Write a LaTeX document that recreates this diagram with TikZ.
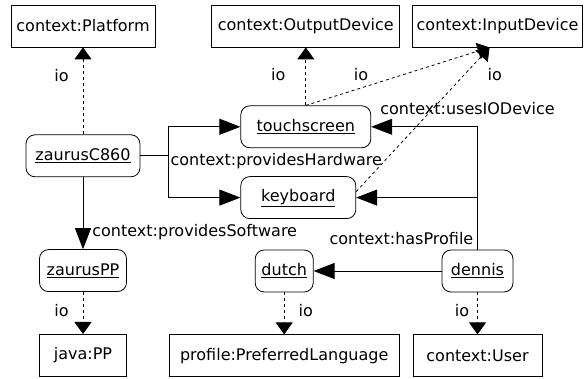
\documentclass[tikz,border=0pt]{standalone}
\usepackage{fontspec}
\setmainfont{DejaVu Sans}
\usepackage{tikz}
\usetikzlibrary{arrows.meta, positioning}
\newcommand{\fsz}{\fontsize{16}{19}\selectfont}
\tikzstyle{klass} = [rectangle, minimum height=42pt, inner xsep=3pt, text centered, draw=black, line width=0.8pt, font=\fsz]
\tikzstyle{instance} = [rectangle, rounded corners=9pt, minimum height=42pt, text centered, draw=black, line width=0.8pt, font=\fsz]
\tikzstyle{prop} = [line width=0.8pt, -{Triangle[length=21pt,width=16pt]}]
\tikzstyle{typeof} = [line width=0.8pt, dash pattern=on 3pt off 3pt, -{Triangle[length=12pt,width=17pt]}]
\tikzstyle{lbl} = [inner sep=0pt, font=\fsz]

\begin{document}
\begin{tikzpicture}[x=1pt, y=-1pt]
    \useasboundingbox (0,0) rectangle (584,379);
    % Classes on top
    \node[klass, minimum width=144pt] (platform) at (83,26) {context:Platform};
    \node[klass, minimum width=188pt, right=56pt of platform] (output) {context:OutputDevice};
    \node[klass, minimum width=170pt, right=12pt of output] (input) {context:InputDevice};

    % Device instances
    \node[instance, minimum width=114pt, below=87pt of platform] (zc860) {\underline{zaurusC860}};
    \node[instance, minimum width=130pt, below=58pt of output] (touch) {\underline{touchscreen}};
    \node[instance, minimum width=115pt, below=28pt of touch.south west, anchor=north west] (keyboard) {\underline{keyboard}};
    \node[instance, minimum width=87pt, below=72pt of zc860] (zpp) {\underline{zaurusPP}};

    % User and profile
    \node[instance, minimum width=71pt] (dennis) at (477.5,271) {\underline{dennis}};
    \node[instance, minimum width=58pt, left=128pt of dennis] (dutch) {\underline{dutch}};

    % Classes at bottom
    \node[klass, minimum width=87pt, below=42pt of zpp] (javapp) {java:PP};
    \node[klass, minimum width=230pt, below=42pt of dutch] (preflang) {profile:PreferredLanguage};
    \node[klass, minimum width=129pt, below=42pt of dennis] (user) {context:User};

    % io links
    \draw[typeof] (zc860) -- node[lbl, left=14pt, pos=0.68] {io} (platform);
    \draw[typeof] (touch) -- node[lbl, left=20pt, pos=0.53] {io} (output);
    \draw[typeof] (touch.north) -- node[lbl, above=7pt, pos=0.3] {io} ([xshift=-8pt]input.south);
    \draw[typeof] ([yshift=6pt]keyboard.east) -- node[lbl, right=23pt, pos=0.81] {io} ([xshift=-8pt]input.south);
    \draw[typeof] (zpp) -- node[lbl, left=14pt, pos=0.43] {io} (javapp);
    \draw[typeof] (dutch) -- node[lbl, right=14pt, pos=0.43] {io} (preflang);
    \draw[typeof] (dennis) -- node[lbl, left=8pt, pos=0.43] {io} (user);

    % Properties
    \draw[line width=0.8pt] (zc860.east) -- ++(28,0) coordinate (hw);
    \draw[prop] (hw) |- (touch.west);
    \draw[prop] (hw) |- (keyboard.west);
    \node[lbl, anchor=base west, xshift=2pt, yshift=-10pt] (hwlabel) at (hw) {context:providesHardware};
    \draw[prop] (zc860) -- node[lbl, anchor=base west, pos=0.83, xshift=9pt] {context:providesSoftware} (zpp);
    \draw[prop] (dennis.north) |- node[lbl, anchor=base, xshift=-10pt, yshift=12pt] {context:usesIODevice} (touch.east);
    \draw[prop] (dennis.north) |- (keyboard.east);
    \draw[prop] (dennis) -- (dutch);
    \node[lbl, anchor=base east, xshift=-4pt, yshift=5pt] (proflabel) at (dennis.north) {context:hasProfile};
\end{tikzpicture}
\end{document}
